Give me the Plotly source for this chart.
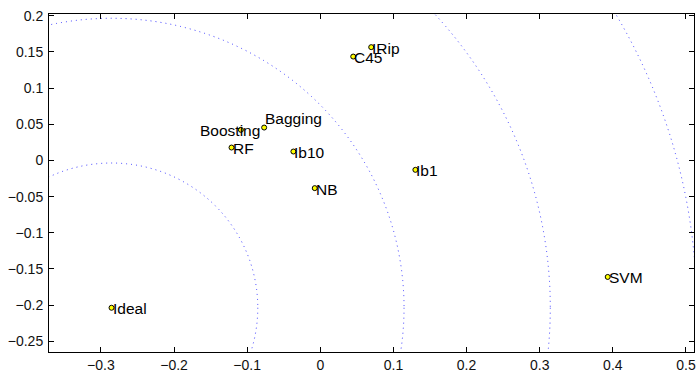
import plotly.graph_objects as go

names = ["Ideal", "SVM", "IRip", "C45", "Bagging", "Boosting", "RF", "Ib10", "NB", "Ib1"]
xs = [-0.2855, 0.393, 0.0696, 0.045, -0.0768, -0.1086, -0.1214, -0.0368, -0.0076, 0.130]
ys = [-0.2036, -0.161, 0.1565, 0.1435, 0.0454, 0.0423, 0.0178, 0.0123, -0.0383, -0.013]
radii = [0.2, 0.4, 0.6, 0.8]

x_ticks = [-0.3, -0.2, -0.1, 0, 0.1, 0.2, 0.3, 0.4, 0.5]
x_labels = ["\u22120.3", "\u22120.2", "\u22120.1", "0", "0.1", "0.2", "0.3", "0.4", "0.5"]
y_ticks = [0.2, 0.15, 0.1, 0.05, 0, -0.05, -0.1, -0.15, -0.2, -0.25]
y_labels = ["0.2", "0.15", "0.1", "0.05", "0", "\u22120.05", "\u22120.1", "\u22120.15", "\u22120.2", "\u22120.25"]

# pixel nudges for labels that were moved in the original to avoid overlap
label_shift = {"Boosting": (-42, 0), "Bagging": (0, 10)}

cx, cy = xs[0], ys[0]

fig = go.Figure()

for r in radii:
    fig.add_shape(type="circle", xref="x", yref="y",
                  x0=cx - r, x1=cx + r, y0=cy - r, y1=cy + r,
                  line=dict(color="rgba(30,30,255,0.85)", width=1, dash="1px,4px"), layer="below")

fig.add_trace(go.Scatter(
    x=xs, y=ys, mode="markers",
    marker=dict(size=5, color="#ffff00", line=dict(color="black", width=1)),
    hoverinfo="text", text=names, showlegend=False))

for n, x, y in zip(names, xs, ys):
    dx, dy = label_shift.get(n, (0, 0))
    fig.add_annotation(x=x, y=y, text=n, showarrow=False, xanchor="left", yanchor="middle",
                       xshift=-1 + dx, yshift=-1 + dy,
                       font=dict(family="Liberation Sans, Arial, sans-serif", size=15.5, color="black"))

axis_common = dict(showgrid=False, zeroline=False, showline=True, linecolor="black", linewidth=1,
                   mirror="ticks", ticks="inside", ticklen=5, tickcolor="black", tickwidth=1,
                   tickfont=dict(family="Liberation Sans, Arial, sans-serif", size=14, color="#111"))

fig.update_layout(
    width=700, height=377,
    margin=dict(l=49, r=4, t=14, b=25),
    paper_bgcolor="white", plot_bgcolor="white",
    xaxis=dict(range=[-0.371, 0.511], tickvals=x_ticks, ticktext=x_labels, **axis_common),
    yaxis=dict(range=[-0.2647, 0.2023], tickvals=y_ticks, ticktext=y_labels, ticklabelstandoff=2, **axis_common),
)

fig.write_html("out.html")
